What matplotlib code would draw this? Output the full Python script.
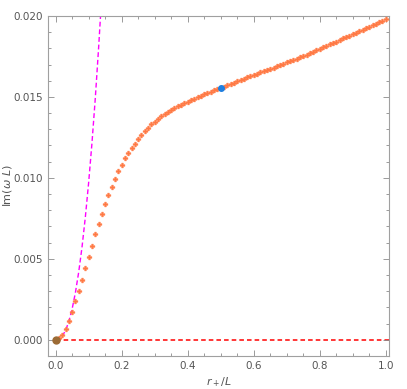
import numpy as np
import matplotlib.pyplot as plt
from matplotlib.ticker import MultipleLocator

plt.rcParams['mathtext.fontset'] = 'dejavusans'

# numerical data: Im(omega L) vs r+/L
r_vals = [0.00, 0.01, 0.02, 0.03, 0.04, 0.05, 0.06, 0.07, 0.08, 0.09,
          0.10, 0.11, 0.12, 0.13, 0.14, 0.15, 0.16, 0.17, 0.18, 0.19,
          0.20, 0.21, 0.22, 0.23, 0.24, 0.25, 0.26, 0.27, 0.28, 0.29,
          0.30, 0.31, 0.32, 0.33, 0.34, 0.35, 0.36, 0.37, 0.38, 0.39,
          0.40, 0.41, 0.42, 0.43, 0.44, 0.45, 0.46, 0.47, 0.48, 0.49,
          0.50, 0.51, 0.52, 0.53, 0.54, 0.55, 0.56, 0.57, 0.58, 0.59,
          0.60, 0.61, 0.62, 0.63, 0.64, 0.65, 0.66, 0.67, 0.68, 0.69,
          0.70, 0.71, 0.72, 0.73, 0.74, 0.75, 0.76, 0.77, 0.78, 0.79,
          0.80, 0.81, 0.82, 0.83, 0.84, 0.85, 0.86, 0.87, 0.88, 0.89,
          0.90, 0.91, 0.92, 0.93, 0.94, 0.95, 0.96, 0.97, 0.98, 0.99,
          1.00]
im_vals = [0.00000, 0.00010, 0.00030, 0.00068, 0.00118, 0.00173, 0.00237, 0.00304, 0.00372, 0.00444,
           0.00514, 0.00582, 0.00652, 0.00717, 0.00779, 0.00838, 0.00892, 0.00946, 0.00991, 0.01041,
           0.01082, 0.01120, 0.01152, 0.01183, 0.01212, 0.01239, 0.01264, 0.01288, 0.01310, 0.01330,
           0.01348, 0.01365, 0.01380, 0.01394, 0.01407, 0.01419, 0.01430, 0.01441, 0.01451, 0.01461,
           0.01470, 0.01479, 0.01488, 0.01497, 0.01506, 0.01515, 0.01523, 0.01532, 0.01540, 0.01548,
           0.01557, 0.01564, 0.01572, 0.01580, 0.01588, 0.01596, 0.01604, 0.01612, 0.01620, 0.01627,
           0.01635, 0.01643, 0.01651, 0.01658, 0.01666, 0.01673, 0.01681, 0.01689, 0.01697, 0.01705,
           0.01713, 0.01721, 0.01729, 0.01737, 0.01745, 0.01753, 0.01761, 0.01770, 0.01779, 0.01788,
           0.01797, 0.01806, 0.01815, 0.01824, 0.01833, 0.01842, 0.01852, 0.01861, 0.01870, 0.01879,
           0.01888, 0.01897, 0.01906, 0.01915, 0.01924, 0.01933, 0.01942, 0.01951, 0.01960, 0.01970,
           0.01980]

# small black hole approximation (dashed magenta)
approx_r = [0.0, 0.01, 0.02, 0.03, 0.04, 0.05, 0.06, 0.07, 0.08, 0.09, 0.10, 0.11, 0.12, 0.13, 0.136]
approx_im = [0.0, 0.00004, 0.00022, 0.00057, 0.00113, 0.0019, 0.00292, 0.00419, 0.00573, 0.00757,
             0.0097, 0.01213, 0.01487, 0.01797, 0.0200]

# highlighted points
blue_pt = (0.5, 0.01557)
brown_pt = (0.0, 0.0)

gray = '#8a8a8a'
fig = plt.figure(figsize=(4.07, 3.89), dpi=100)
ax = fig.add_axes([0.118, 0.085, 0.838, 0.874])

ax.axhline(0, xmin=0.022, xmax=1, color='#ff0000', lw=1.1, ls=(0, (3, 2)), zorder=1)
ax.plot(approx_r, approx_im, color='#ff00ff', lw=1.0, ls=(0, (3.5, 2)), zorder=2)
ax.plot(r_vals, im_vals, ls='none', marker='P', ms=3.5, color='#ff7a45', mec='#ff7a45',
        mew=0.3, zorder=3)
ax.plot(*blue_pt, 'o', ms=4.0, color='#1f7fe0', zorder=4)
ax.plot(*brown_pt, 'o', ms=5.0, color='#9c6b35', zorder=4)

ax.set_xlim(-0.023, 1.01)
ax.set_ylim(-0.001, 0.02)
ax.xaxis.set_major_locator(MultipleLocator(0.2))
ax.xaxis.set_minor_locator(MultipleLocator(0.05))
ax.yaxis.set_major_locator(MultipleLocator(0.005))
ax.yaxis.set_minor_locator(MultipleLocator(0.001))
ax.xaxis.set_major_formatter(lambda v, p: f'{v:.1f}')
ax.yaxis.set_major_formatter(lambda v, p: f'{v:.3f}')

ax.tick_params(which='both', direction='in', top=True, right=True, color=gray,
               labelcolor='#555555', labelsize=7.5, width=0.6)
ax.tick_params(which='major', length=4)
ax.tick_params(which='minor', length=2)
for s in ax.spines.values():
    s.set_color('#a0a0a0')
    s.set_linewidth(0.8)
ax.tick_params(labeltop=False, labelright=False)

ax.set_xlabel(r'$r_+/L$', color='#555555', fontsize=8, labelpad=3)
ax.set_ylabel(r'Im$(\omega\ L)$', color='#555555', fontsize=8)
ax.yaxis.set_label_coords(-0.1, 0.5)

plt.savefig('out.png', dpi=100)
